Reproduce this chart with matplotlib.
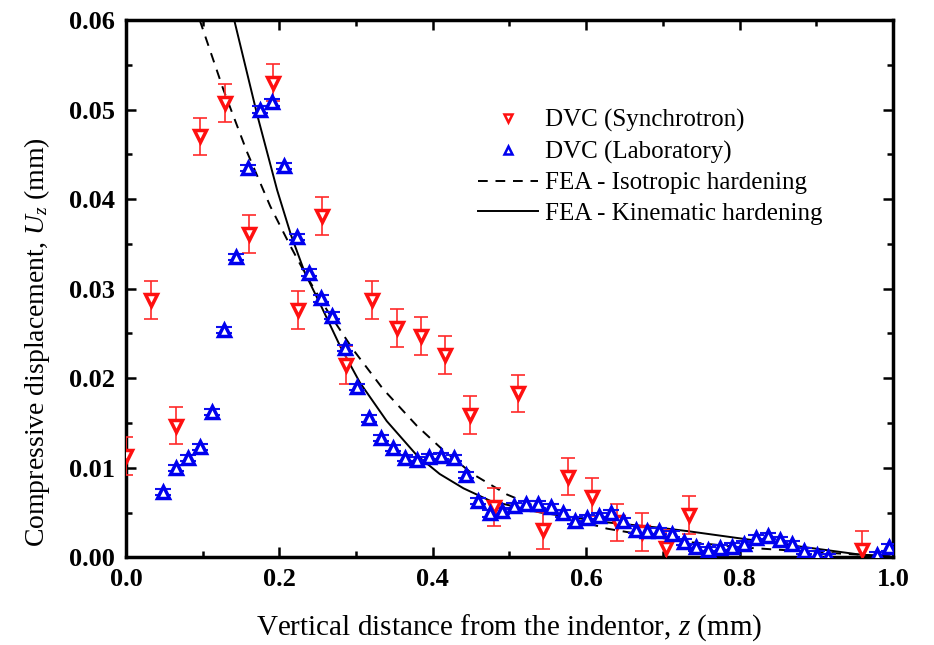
import matplotlib
matplotlib.use("Agg")
import matplotlib.pyplot as plt
from matplotlib.ticker import MultipleLocator, FormatStrFormatter

plt.rcParams["font.family"] = ["Liberation Serif", "DejaVu Serif"]
plt.rcParams["mathtext.fontset"] = "custom"
plt.rcParams["mathtext.rm"] = "Liberation Serif"
plt.rcParams["mathtext.it"] = "Liberation Serif:italic"

# DVC synchrotron measurements (z in mm, Uz in mm, error in mm)
sync_z = [0.000, 0.033, 0.065, 0.096, 0.129, 0.160, 0.192, 0.224, 0.256, 0.287,
          0.321, 0.353, 0.385, 0.416, 0.449, 0.480, 0.511, 0.544, 0.576, 0.608,
          0.640, 0.673, 0.704, 0.734, 0.960]
sync_u = [0.0113, 0.0287, 0.0147, 0.0470, 0.0507, 0.0361, 0.0530, 0.0276, 0.0381, 0.0215,
          0.0287, 0.0256, 0.0247, 0.0226, 0.0159, 0.0056, 0.0183, 0.0030, 0.0090, 0.0067,
          0.0039, 0.0028, 0.0010, 0.0047, 0.0008]
sync_err = [0.0021] * len(sync_z)

# DVC laboratory measurements
lab_z = [0.048, 0.065, 0.081, 0.096, 0.112, 0.128, 0.143, 0.159, 0.175, 0.190,
         0.206, 0.223, 0.239, 0.254, 0.269, 0.286, 0.301, 0.317, 0.332, 0.348,
         0.364, 0.379, 0.395, 0.411, 0.427, 0.443, 0.459, 0.475, 0.490, 0.506,
         0.522, 0.537, 0.554, 0.570, 0.585, 0.601, 0.617, 0.632, 0.648, 0.665,
         0.679, 0.695, 0.712, 0.728, 0.743, 0.759, 0.774, 0.790, 0.806, 0.821,
         0.837, 0.853, 0.868, 0.884, 0.901, 0.915, 0.979, 0.995]
lab_u = [0.0073, 0.0100, 0.0111, 0.0123, 0.0162, 0.0254, 0.0335, 0.0435, 0.0500, 0.0508,
         0.0437, 0.0358, 0.0318, 0.0289, 0.0270, 0.0234, 0.0190, 0.0155, 0.0133, 0.0122,
         0.0111, 0.0109, 0.0112, 0.0113, 0.0111, 0.0092, 0.0063, 0.0049, 0.0052, 0.0057,
         0.0059, 0.0059, 0.0056, 0.0049, 0.0041, 0.0044, 0.0046, 0.0049, 0.0040, 0.0031,
         0.0029, 0.0029, 0.0026, 0.0017, 0.0011, 0.0008, 0.0010, 0.0012, 0.0015, 0.0021,
         0.0024, 0.0019, 0.0015, 0.0007, 0.0003, 0.0000, 0.0002, 0.0011]
lab_err = [0.00035] * len(lab_z)

# FEA predictions
iso_z = [0.096, 0.127, 0.158, 0.188, 0.214, 0.236, 0.262, 0.296, 0.335, 0.379,
         0.413, 0.452, 0.497, 0.553, 0.627, 0.696, 0.722, 0.804, 0.914, 0.996]
iso_u = [0.0600, 0.0522, 0.0452, 0.0392, 0.0348, 0.0313, 0.0276, 0.0232, 0.0188, 0.0147,
         0.0120, 0.0093, 0.0070, 0.0050, 0.0032, 0.0022, 0.0018, 0.0011, 0.0005, 0.0001]

kin_z = [0.141, 0.171, 0.197, 0.215, 0.233, 0.253, 0.279, 0.305, 0.340, 0.379,
         0.409, 0.440, 0.475, 0.540, 0.627, 0.696, 0.734, 0.827, 0.957, 0.996]
kin_u = [0.0600, 0.0494, 0.0410, 0.0360, 0.0318, 0.0283, 0.0236, 0.0195, 0.0152, 0.0114,
         0.0093, 0.0077, 0.0063, 0.0050, 0.0039, 0.0033, 0.0029, 0.0018, 0.0003, 0.0001]

fig = plt.figure(figsize=(9.34, 6.45), dpi=100)
ax = fig.add_axes([0.135, 0.136, 0.821, 0.833])

ax.plot(iso_z, iso_u, color="black", lw=1.4, ls=(0, (5, 4)), zorder=2)
ax.plot(kin_z, kin_u, color="black", lw=1.4, ls="-", zorder=2)

ax.errorbar(sync_z, sync_u, yerr=sync_err, fmt="none", ecolor="#ff2a2a",
            elinewidth=1.2, capsize=5, capthick=1.2, zorder=3)
ax.errorbar(lab_z, lab_u, yerr=lab_err, fmt="none", ecolor="#1010ee",
            elinewidth=1.2, capsize=5.5, capthick=1.5, zorder=3)
ax.plot(sync_z, sync_u, ls="none", marker="v", ms=8, mfc="white", mec="#ff1010",
        mew=2.5, zorder=4)
ax.plot(lab_z, lab_u, ls="none", marker="^", ms=8, mfc="white", mec="#0000ee",
        mew=2.5, zorder=4)

# legend entries
h1, = ax.plot([], [], ls="none", marker="v", ms=5.5, mfc="white", mec="#ff1010", mew=1.8,
              label="DVC (Synchrotron)")
h2, = ax.plot([], [], ls="none", marker="^", ms=5.5, mfc="white", mec="#0000ee", mew=1.8,
              label="DVC (Laboratory)")
h3, = ax.plot([], [], color="black", lw=1.4, ls=(0, (5, 4)), label="FEA - Isotropic hardening")
h4, = ax.plot([], [], color="black", lw=1.4, ls="-", label="FEA - Kinematic hardening")
ax.legend(handles=[h1, h2, h3, h4], loc="upper left", bbox_to_anchor=(0.498, 0.85),
          bbox_transform=fig.transFigure, frameon=False, fontsize=18,
          handlelength=2.4, handletextpad=0.3, labelspacing=0.33, borderpad=0)

ax.set_xlim(0, 1.0)
ax.set_ylim(0, 0.06)
ax.xaxis.set_major_locator(MultipleLocator(0.2))
ax.xaxis.set_minor_locator(MultipleLocator(0.1))
ax.yaxis.set_major_locator(MultipleLocator(0.01))
ax.yaxis.set_minor_locator(MultipleLocator(0.005))
ax.xaxis.set_major_formatter(FormatStrFormatter("%.1f"))
ax.yaxis.set_major_formatter(FormatStrFormatter("%.2f"))

ax.tick_params(which="both", direction="in", top=True, right=True, width=1.8)
ax.tick_params(which="major", length=7, labelsize=19, pad=8)
ax.tick_params(which="minor", length=4)
for lab in ax.get_xticklabels() + ax.get_yticklabels():
    lab.set_fontweight("bold")
for sp in ax.spines.values():
    sp.set_linewidth(2.5)

ax.set_xlabel("Vertical distance from the indentor, $z$ (mm)", fontsize=21)
ax.set_ylabel("Compressive displacement, $U_z$ (mm)", fontsize=20)
ax.xaxis.set_label_coords(0.5, -0.103)
ax.yaxis.set_label_coords(-0.097, 0.40)

fig.savefig("out.png", dpi=100)
